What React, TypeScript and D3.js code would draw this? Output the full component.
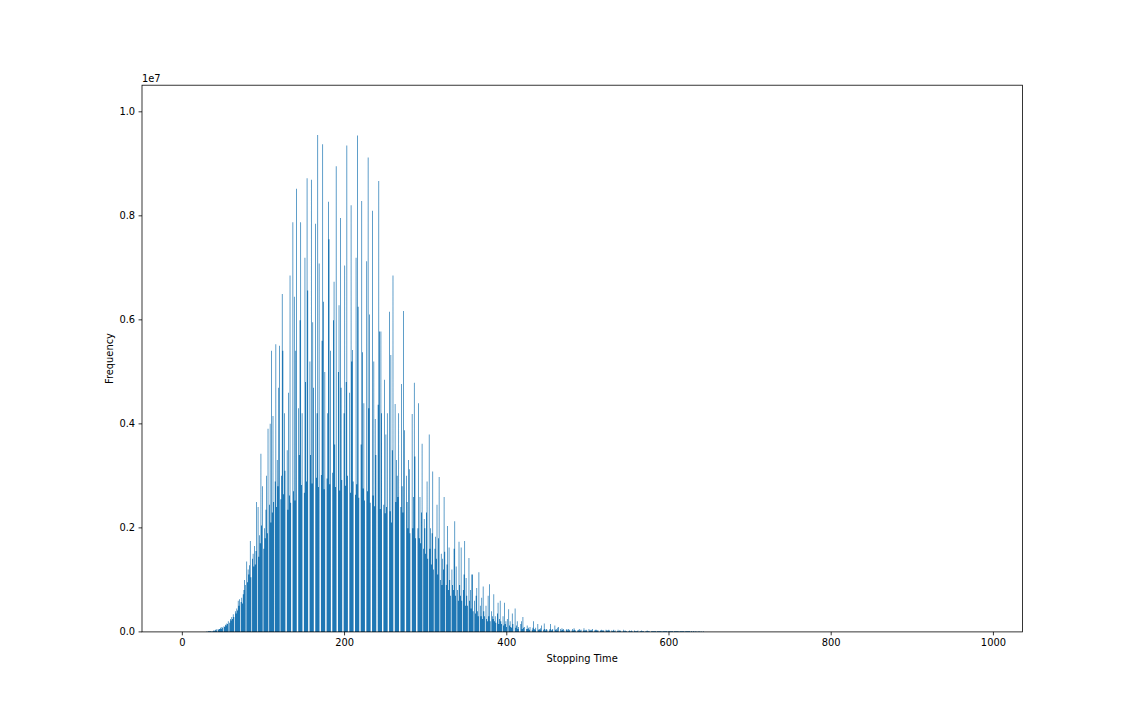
import * as d3 from 'd3';

// stopping time histogram: counts per stopping time, in units of 10^4
const firstStep = 30;
const lastStep = 986;
const unit = 1e4;
const counts: number[] = [
  // 30-79
  1, 0, 1, 1, 2, 1, 2, 2, 3, 2,
  3, 4, 3, 5, 4, 6, 5, 8, 6, 9,
  8, 11, 10, 14, 12, 17, 15, 21, 18, 24,
  22, 29, 25, 34, 28, 40, 36, 45, 41, 60,
  50, 63, 58, 66, 55, 72, 80, 100, 90, 135,
  // 80-129
  95, 120, 110, 128, 175, 105, 140, 150, 125, 165,
  130, 155, 250, 240, 145, 185, 170, 342, 205, 280,
  160, 200, 180, 235, 300, 190, 390, 245, 400, 210,
  540, 230, 415, 250, 290, 553, 240, 330, 280, 470,
  550, 255, 300, 650, 540, 265, 420, 310, 717, 350,
  // 130-179
  235, 460, 262, 685, 248, 500, 788, 270, 645, 252,
  540, 852, 258, 430, 340, 600, 788, 282, 420, 710,
  268, 720, 480, 290, 873, 656, 262, 520, 340, 870,
  286, 595, 470, 271, 785, 296, 420, 955, 278, 708,
  480, 302, 560, 938, 635, 275, 500, 845, 295, 420,
  // 180-229
  827, 755, 284, 540, 450, 306, 600, 673, 360, 279,
  895, 298, 500, 628, 272, 796, 470, 292, 560, 420,
  704, 281, 480, 935, 301, 619, 460, 268, 821, 520,
  542, 289, 440, 263, 719, 284, 954, 625, 258, 480,
  360, 829, 538, 276, 440, 252, 560, 712, 270, 912,
  // 230-279
  430, 610, 248, 480, 810, 262, 520, 241, 410, 340,
  255, 437, 867, 577, 236, 577, 420, 765, 244, 485,
  228, 380, 240, 420, 219, 616, 232, 533, 210, 350,
  685, 280, 438, 250, 330, 300, 260, 420, 358, 240,
  477, 280, 230, 617, 388, 220, 300, 250, 200, 330,
  // 280-329
  313, 190, 250, 419, 200, 260, 479, 337, 180, 240,
  200, 440, 180, 260, 170, 230, 362, 160, 217, 200,
  150, 230, 289, 140, 379, 160, 200, 130, 190, 308,
  120, 160, 183, 140, 244, 110, 180, 298, 100, 150,
  90, 140, 120, 260, 154, 90, 130, 204, 80, 162,
  // 330-379
  100, 70, 120, 90, 80, 160, 213, 70, 125, 80,
  60, 173, 90, 70, 162, 60, 80, 110, 175, 50,
  104, 70, 50, 142, 60, 80, 45, 110, 110, 40,
  60, 35, 70, 85, 40, 30, 114, 50, 30, 65,
  25, 88, 40, 30, 50, 25, 20, 69, 30, 92,
  // 380-429
  20, 40, 30, 25, 73, 20, 30, 18, 35, 56,
  15, 25, 60, 20, 15, 30, 12, 56, 15, 20,
  10, 25, 44, 12, 20, 10, 8, 35, 15, 10,
  45, 8, 12, 20, 6, 10, 8, 15, 20, 6,
  28, 8, 10, 34, 5, 12, 6, 8, 4, 10,
  // 430-479
  15, 4, 8, 21, 5, 4, 8, 3, 15, 4,
  6, 4, 7, 12, 5, 4, 17, 5, 3, 6,
  4, 12, 3, 5, 15, 3, 4, 6, 3, 12,
  4, 6, 3, 8, 10, 4, 5, 3, 7, 4,
  5, 3, 8, 4, 5, 3, 6, 3, 4, 9,
  // 480-529
  3, 5, 3, 7, 4, 3, 5, 3, 4, 3,
  6, 3, 4, 5, 3, 7, 3, 3, 4, 3,
  3, 5, 3, 3, 4, 3, 6, 3, 3, 4,
  3, 4, 3, 3, 5, 3, 3, 4, 3, 3,
  3, 3, 4, 3, 3, 3, 4, 3, 2, 3,
  // 530-579
  2, 3, 4, 2, 3, 3, 2, 4, 2, 3,
  3, 2, 3, 2, 4, 2, 3, 2, 2, 3,
  2, 3, 2, 2, 3, 2, 2, 3, 2, 2,
  2, 2, 3, 2, 2, 2, 3, 2, 2, 2,
  2, 2, 2, 3, 2, 2, 2, 2, 2, 2,
  // 580-642
  2, 2, 2, 2, 2, 2, 2, 2, 2, 2,
  2, 2, 2, 2, 2, 2, 2, 2, 2, 2,
  2, 1, 2, 1, 2, 1, 1, 2, 1, 1,
  1, 1, 2, 1, 1, 1, 1, 1, 1, 1,
  1, 1, 1, 1, 1, 1, 1, 1, 1, 0,
  1, 1, 0, 1, 1, 0, 1, 0, 1, 0,
  1, 0, 1,
];

const xTicks = [0, 200, 400, 600, 800, 1000];
const yTicks = [0, 0.2e7, 0.4e7, 0.6e7, 0.8e7, 1.0e7];
const yTop = 1.0512e7;

// figure is laid out at 1600x1000 (16x10in @ 100dpi) and shrunk to the window
const figW = 1600;
const figH = 1000;
const shrink = 0.71;
const left = 200;
const right = 1440;
const top = 120;
const bottom = 890;
const fontPx = 13.89;
const tickLen = 4.86;
const pad = 4.86;
const blue = '#1f77b4';

export default function App() {
  const halfW = 0.4;
  const span = lastStep + halfW - (0 - halfW);
  const x = d3
    .scaleLinear()
    .domain([-halfW - 0.05 * span, lastStep + halfW + 0.05 * span])
    .range([left, right]);
  const y = d3.scaleLinear().domain([0, yTop]).range([bottom, top]);

  // one path for all bars so touching bars don't leave anti-aliasing seams;
  // edges snapped to whole pixels like agg does
  const barPath = d3.path();
  counts.forEach((c, i) => {
    const step = firstStep + i;
    const x0 = Math.round(x(step - halfW));
    const x1 = Math.round(x(step + halfW));
    const y0 = Math.round(y(c * unit));
    const y1 = Math.round(y(0));
    if (x1 > x0 && y1 > y0) {
      barPath.rect(x0, y0, x1 - x0, y1 - y0);
    }
  });

  const fmt = d3.format('.1f');

  return (
    <svg
      width={figW * shrink}
      height={figH * shrink}
      style={{ position: 'absolute', left: 0, top: 0, background: '#fff' }}
      fontFamily="DejaVu Sans"
    >
      <g transform={`scale(${shrink})`}>
        <rect width={figW} height={figH} fill="#fff" />
        <path d={barPath.toString()} fill={blue} />

        {xTicks.map((t) => (
          <g key={`x${t}`} transform={`translate(${x(t)},${bottom})`}>
            <line y2={tickLen} stroke="#000" strokeWidth={1.11} />
            <text y={tickLen + pad + fontPx * 0.76} textAnchor="middle" fontSize={fontPx} fill="#000">
              {t}
            </text>
          </g>
        ))}
        {yTicks.map((t) => (
          <g key={`y${t}`} transform={`translate(${left},${y(t)})`}>
            <line x2={-tickLen} stroke="#000" strokeWidth={1.11} />
            <text x={-tickLen - pad} dy="0.36em" textAnchor="end" fontSize={fontPx} fill="#000">
              {fmt(t / 1e7)}
            </text>
          </g>
        ))}

        <rect
          x={left}
          y={top}
          width={right - left}
          height={bottom - top}
          fill="none"
          stroke="#000"
          strokeWidth={1.11}
        />

        <text x={left} y={top - 4} fontSize={fontPx} fill="#000">
          1e7
        </text>
        <text x={(left + right) / 2} y={933} textAnchor="middle" fontSize={fontPx} fill="#000">
          Stopping Time
        </text>
        <text
          transform={`translate(154,${(top + bottom) / 2}) rotate(-90)`}
          textAnchor="middle"
          dy="0.36em"
          fontSize={fontPx}
          fill="#000"
        >
          Frequency
        </text>
      </g>
    </svg>
  );
}
